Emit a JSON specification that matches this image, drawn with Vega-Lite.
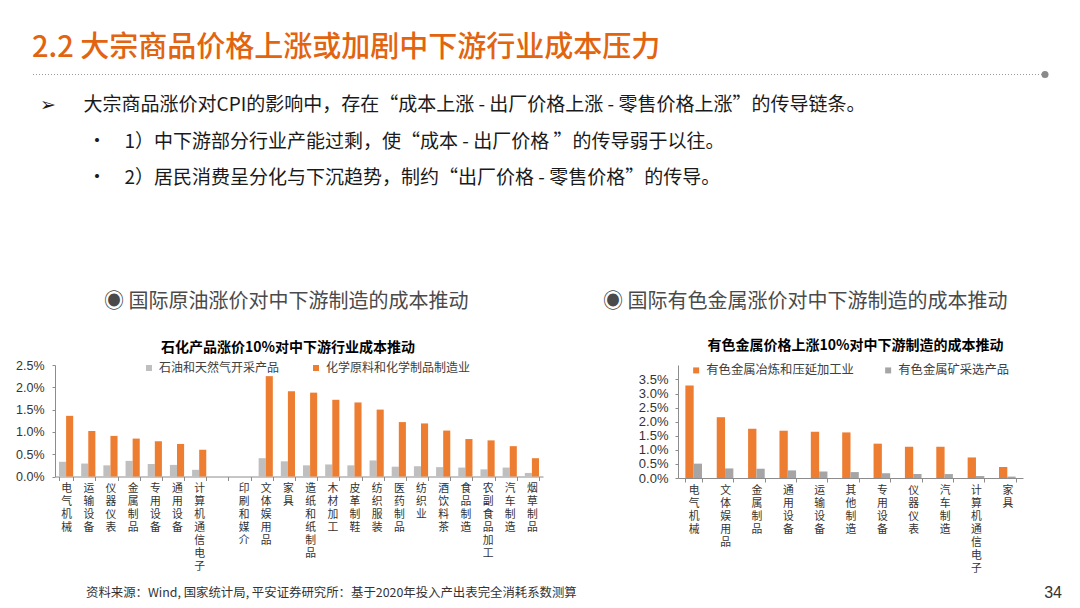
{
  "$schema": "https://vega.github.io/schema/vega-lite/v6.json",
  "background": "white",
  "padding": {"left": 15, "top": 33, "right": 5, "bottom": 5},
  "config": {
    "view": {"stroke": null},
    "font": "Noto Sans CJK SC",
    "axis": {"grid": false, "domainColor": "#8c8c8c", "tickColor": "#8c8c8c", "labelColor": "#333333"}
  },
  "datasets": {
    "oil": [
      {"industry": "电气机械", "series": "石油和天然气开采产品", "value": 0.33},
      {"industry": "电气机械", "series": "化学原料和化学制品制造业", "value": 1.36},
      {"industry": "运输设备", "series": "石油和天然气开采产品", "value": 0.29},
      {"industry": "运输设备", "series": "化学原料和化学制品制造业", "value": 1.02},
      {"industry": "仪器仪表", "series": "石油和天然气开采产品", "value": 0.25},
      {"industry": "仪器仪表", "series": "化学原料和化学制品制造业", "value": 0.91},
      {"industry": "金属制品", "series": "石油和天然气开采产品", "value": 0.35},
      {"industry": "金属制品", "series": "化学原料和化学制品制造业", "value": 0.85},
      {"industry": "专用设备", "series": "石油和天然气开采产品", "value": 0.28},
      {"industry": "专用设备", "series": "化学原料和化学制品制造业", "value": 0.79},
      {"industry": "通用设备", "series": "石油和天然气开采产品", "value": 0.26},
      {"industry": "通用设备", "series": "化学原料和化学制品制造业", "value": 0.73},
      {"industry": "计算机通信电子", "series": "石油和天然气开采产品", "value": 0.15},
      {"industry": "计算机通信电子", "series": "化学原料和化学制品制造业", "value": 0.60},
      {"industry": "印刷和媒介", "series": "石油和天然气开采产品", "value": 0},
      {"industry": "印刷和媒介", "series": "化学原料和化学制品制造业", "value": 0},
      {"industry": "文体娱用品", "series": "石油和天然气开采产品", "value": 0.41},
      {"industry": "文体娱用品", "series": "化学原料和化学制品制造业", "value": 2.25},
      {"industry": "家具", "series": "石油和天然气开采产品", "value": 0.34},
      {"industry": "家具", "series": "化学原料和化学制品制造业", "value": 1.91},
      {"industry": "造纸和纸制品", "series": "石油和天然气开采产品", "value": 0.25},
      {"industry": "造纸和纸制品", "series": "化学原料和化学制品制造业", "value": 1.88},
      {"industry": "木材加工", "series": "石油和天然气开采产品", "value": 0.27},
      {"industry": "木材加工", "series": "化学原料和化学制品制造业", "value": 1.72},
      {"industry": "皮革制鞋", "series": "石油和天然气开采产品", "value": 0.25},
      {"industry": "皮革制鞋", "series": "化学原料和化学制品制造业", "value": 1.66},
      {"industry": "纺织服装", "series": "石油和天然气开采产品", "value": 0.36},
      {"industry": "纺织服装", "series": "化学原料和化学制品制造业", "value": 1.50},
      {"industry": "医药制品", "series": "石油和天然气开采产品", "value": 0.22},
      {"industry": "医药制品", "series": "化学原料和化学制品制造业", "value": 1.22},
      {"industry": "纺织业", "series": "石油和天然气开采产品", "value": 0.23},
      {"industry": "纺织业", "series": "化学原料和化学制品制造业", "value": 1.19},
      {"industry": "酒饮料茶", "series": "石油和天然气开采产品", "value": 0.21},
      {"industry": "酒饮料茶", "series": "化学原料和化学制品制造业", "value": 1.03},
      {"industry": "食品制造", "series": "石油和天然气开采产品", "value": 0.20},
      {"industry": "食品制造", "series": "化学原料和化学制品制造业", "value": 0.84},
      {"industry": "农副食品加工", "series": "石油和天然气开采产品", "value": 0.16},
      {"industry": "农副食品加工", "series": "化学原料和化学制品制造业", "value": 0.81},
      {"industry": "汽车制造", "series": "石油和天然气开采产品", "value": 0.20},
      {"industry": "汽车制造", "series": "化学原料和化学制品制造业", "value": 0.68},
      {"industry": "烟草制品", "series": "石油和天然气开采产品", "value": 0.08},
      {"industry": "烟草制品", "series": "化学原料和化学制品制造业", "value": 0.41}
    ],
    "metal": [
      {"industry": "电气机械", "series": "有色金属冶炼和压延加工业", "value": 3.29},
      {"industry": "电气机械", "series": "有色金属矿采选产品", "value": 0.51},
      {"industry": "文体娱用品", "series": "有色金属冶炼和压延加工业", "value": 2.16},
      {"industry": "文体娱用品", "series": "有色金属矿采选产品", "value": 0.34},
      {"industry": "金属制品", "series": "有色金属冶炼和压延加工业", "value": 1.75},
      {"industry": "金属制品", "series": "有色金属矿采选产品", "value": 0.33},
      {"industry": "通用设备", "series": "有色金属冶炼和压延加工业", "value": 1.68},
      {"industry": "通用设备", "series": "有色金属矿采选产品", "value": 0.27},
      {"industry": "运输设备", "series": "有色金属冶炼和压延加工业", "value": 1.64},
      {"industry": "运输设备", "series": "有色金属矿采选产品", "value": 0.23},
      {"industry": "其他制造", "series": "有色金属冶炼和压延加工业", "value": 1.62},
      {"industry": "其他制造", "series": "有色金属矿采选产品", "value": 0.21},
      {"industry": "专用设备", "series": "有色金属冶炼和压延加工业", "value": 1.22},
      {"industry": "专用设备", "series": "有色金属矿采选产品", "value": 0.17},
      {"industry": "仪器仪表", "series": "有色金属冶炼和压延加工业", "value": 1.11},
      {"industry": "仪器仪表", "series": "有色金属矿采选产品", "value": 0.14},
      {"industry": "汽车制造", "series": "有色金属冶炼和压延加工业", "value": 1.11},
      {"industry": "汽车制造", "series": "有色金属矿采选产品", "value": 0.14},
      {"industry": "计算机通信电子", "series": "有色金属冶炼和压延加工业", "value": 0.73},
      {"industry": "计算机通信电子", "series": "有色金属矿采选产品", "value": 0.07},
      {"industry": "家具", "series": "有色金属冶炼和压延加工业", "value": 0.39},
      {"industry": "家具", "series": "有色金属矿采选产品", "value": 0.05}
    ]
  },
  "title": {
    "text": "2.2 大宗商品价格上涨或加剧中下游行业成本压力",
    "anchor": "start", "frame": "group", "dx": -23, "offset": 8,
    "fontSize": 29, "fontWeight": 500, "color": "#E2640F", "font": "Noto Sans CJK SC"
  },
  "resolve": {"scale": {"color": "independent", "xOffset": "independent", "x": "independent", "y": "independent"}, "legend": {"color": "independent"}},
  "spacing": 103,
  "vconcat": [
    {
      "width": 990,
      "height": 1,
      "data": {"values": [{"from": 0, "to": 1}]},
      "title": {
        "text": [
          "➢\u3000\u00a0\u00a0大宗商品涨价对CPI的影响中，存在“成本上涨 - 出厂价格上涨 - 零售价格上涨”的传导链条。",
          "\u200b\u3000\u3000\u2002•\u2002\u00a0\u00a01）中下游部分行业产能过剩，使“成本 - 出厂价格 ”的传导弱于以往。",
          "\u200b\u3000\u3000\u2002•\u2002\u00a0\u00a02）居民消费呈分化与下沉趋势，制约“出厂价格 - 零售价格”的传导。"
        ],
        "orient": "bottom", "anchor": "start", "frame": "group", "dx": -15, "offset": 18,
        "fontSize": 19, "lineHeight": 36.5, "fontWeight": "normal", "color": "#1a1a1a", "font": "Noto Sans CJK SC"
      },
      "layer": [
        {
          "mark": {"type": "rule", "color": "#9a9a9a", "strokeDash": [1, 2], "strokeWidth": 1},
          "encoding": {
            "x": {"field": "from", "type": "quantitative", "scale": {"domain": [0, 1], "range": [-22, 990]}, "axis": null},
            "x2": {"field": "to"}
          }
        },
        {
          "mark": {"type": "point", "filled": true, "color": "#8a8a8a", "size": 50, "opacity": 1},
          "encoding": {
            "x": {"field": "to", "type": "quantitative", "scale": {"domain": [0, 1], "range": [-22, 990]}, "axis": null}
          }
        }
      ]
    },
    {
      "spacing": 11,
      "resolve": {"scale": {"color": "independent", "xOffset": "independent", "x": "independent", "y": "independent"}, "legend": {"color": "independent"}},
      "vconcat": [
        {
          "spacing": 60,
          "resolve": {"scale": {"color": "independent", "xOffset": "independent", "x": "independent", "y": "independent"}, "legend": {"color": "independent"}},
          "hconcat": [
            {
              "title": {
                "text": "◉ 国际原油涨价对中下游制造的成本推动",
                "anchor": "start", "frame": "group", "dx": 49, "offset": 29,
                "fontSize": 20, "fontWeight": "normal", "color": "#4a4a4a", "font": "Noto Sans CJK SC"
              },
              "vconcat": [
                {
                  "width": 488,
                  "height": 111.5,
                  "data": {"name": "oil"},
                  "title": {
                    "text": "石化产品涨价10%对中下游行业成本推动",
                    "anchor": "middle", "frame": "group", "dx": -11, "offset": 4,
                    "fontSize": 14, "fontWeight": "bold", "color": "#000000", "font": "Noto Sans CJK SC"
                  },
                  "mark": {"type": "bar"},
                  "encoding": {
                    "x": {
                      "field": "industry", "type": "nominal", "sort": null, "title": null,
                      "scale": {
                        "domain": ["电气机械", "运输设备", "仪器仪表", "金属制品", "专用设备", "通用设备", "计算机通信电子", " ", "印刷和媒介", "文体娱用品", "家具", "造纸和纸制品", "木材加工", "皮革制鞋", "纺织服装", "医药制品", "纺织业", "酒饮料茶", "食品制造", "农副食品加工", "汽车制造", "烟草制品"],
                        "paddingInner": 0.36, "paddingOuter": 0.18
                      },
                      "axis": {
                        "labelExpr": "split(datum.label, '')", "labelAngle": 0, "labelAlign": "center", "labelBaseline": "top",
                        "labelLineHeight": 13, "labelFontSize": 10.8, "labelPadding": 2, "labelFont": "Noto Sans CJK SC",
                        "tickBand": "extent", "tickSize": 4, "labelOverlap": false, "labelLimit": 0
                      }
                    },
                    "xOffset": {
                      "field": "series", "type": "nominal",
                      "scale": {"domain": ["石油和天然气开采产品", "化学原料和化学制品制造业"], "paddingInner": 0}
                    },
                    "y": {
                      "field": "value", "type": "quantitative", "title": null,
                      "scale": {"domain": [0, 2.5], "nice": false},
                      "axis": {
                        "values": [0, 0.5, 1, 1.5, 2, 2.5], "labelExpr": "format(datum.value, '.1f') + '%'",
                        "labelFont": "Liberation Sans", "labelFontSize": 12.5, "tickSize": 3, "labelPadding": 8,
                        "labelOverlap": false, "labelFlush": false
                      }
                    },
                    "color": {
                      "field": "series", "type": "nominal",
                      "scale": {"domain": ["石油和天然气开采产品", "化学原料和化学制品制造业"], "range": ["#BFBFBF", "#ED7D31"]},
                      "legend": {
                        "orient": "none", "legendX": 88, "legendY": -3, "direction": "horizontal", "title": null,
                        "symbolType": "square", "symbolSize": 36, "symbolStrokeWidth": 0, "symbolOpacity": 1,
                        "labelFontSize": 12, "labelColor": "#404040", "labelFont": "Noto Sans CJK SC",
                        "columnPadding": 30, "labelOffset": 4, "padding": 0, "labelLimit": 0
                      }
                    }
                  }
                }
              ]
            },
            {
              "title": {
                "text": "◉ 国际有色金属涨价对中下游制造的成本推动",
                "anchor": "start", "frame": "group", "dx": -75, "offset": 27,
                "fontSize": 20, "fontWeight": "normal", "color": "#4a4a4a", "font": "Noto Sans CJK SC"
              },
              "vconcat": [
                {
                  "width": 345,
                  "height": 113,
                  "data": {"name": "metal"},
                  "title": {
                    "text": "有色金属价格上涨10%对中下游制造的成本推动",
                    "anchor": "middle", "frame": "group", "dx": 5, "offset": 12,
                    "fontSize": 14, "fontWeight": "bold", "color": "#000000", "font": "Noto Sans CJK SC"
                  },
                  "mark": {"type": "bar"},
                  "encoding": {
                    "x": {
                      "field": "industry", "type": "nominal", "sort": null, "title": null,
                      "scale": {
                        "domain": ["电气机械", "文体娱用品", "金属制品", "通用设备", "运输设备", "其他制造", "专用设备", "仪器仪表", "汽车制造", "计算机通信电子", "家具"],
                        "paddingInner": 0.47, "paddingOuter": 0.235
                      },
                      "axis": {
                        "labelExpr": "split(datum.label, '')", "labelAngle": 0, "labelAlign": "center", "labelBaseline": "top",
                        "labelLineHeight": 13, "labelFontSize": 10.8, "labelPadding": 2, "labelFont": "Noto Sans CJK SC",
                        "tickBand": "extent", "tickSize": 4, "labelOverlap": false, "labelLimit": 0
                      }
                    },
                    "xOffset": {
                      "field": "series", "type": "nominal",
                      "scale": {"domain": ["有色金属冶炼和压延加工业", "有色金属矿采选产品"], "paddingInner": 0}
                    },
                    "y": {
                      "field": "value", "type": "quantitative", "title": null,
                      "scale": {"domain": [0, 4.015], "nice": false, "zero": true},
                      "axis": {
                        "values": [0, 0.5, 1, 1.5, 2, 2.5, 3, 3.5], "labelExpr": "format(datum.value, '.1f') + '%'",
                        "labelFont": "Liberation Sans", "labelFontSize": 13, "tickSize": 3, "labelPadding": 7,
                        "labelOverlap": false, "labelFlush": false
                      }
                    },
                    "color": {
                      "field": "series", "type": "nominal",
                      "scale": {"domain": ["有色金属冶炼和压延加工业", "有色金属矿采选产品"], "range": ["#ED7D31", "#A5A5A5"]},
                      "legend": {
                        "orient": "none", "legendX": 12, "legendY": -1, "direction": "horizontal", "title": null,
                        "symbolType": "square", "symbolSize": 36, "symbolStrokeWidth": 0, "symbolOpacity": 1,
                        "labelFontSize": 12.3, "labelColor": "#404040", "labelFont": "Noto Sans CJK SC",
                        "columnPadding": 28, "labelOffset": 4, "padding": 0, "labelLimit": 0
                      }
                    }
                  }
                }
              ]
            }
          ]
        },
        {
          "width": 1007,
          "height": 1,
          "data": {"values": [
            {"side": "start", "label": "资料来源：Wind, 国家统计局, 平安证券研究所：基于2020年投入产出表完全消耗系数测算"},
            {"side": "end", "label": "34"}
          ]},
          "encoding": {
            "x": {"field": "side", "type": "nominal", "scale": {"type": "point", "domain": ["start", "end"], "padding": 0}, "axis": null},
            "text": {"field": "label"}
          },
          "layer": [
            {
              "transform": [{"filter": "datum.side === 'start'"}],
              "mark": {"type": "text", "align": "left", "dx": 31, "fontSize": 12.4, "color": "#333333", "font": "Noto Sans CJK SC"}
            },
            {
              "transform": [{"filter": "datum.side === 'end'"}],
              "mark": {"type": "text", "align": "right", "fontSize": 16, "color": "#333333", "font": "Liberation Sans"}
            }
          ]
        }
      ]
    }
  ]
}
